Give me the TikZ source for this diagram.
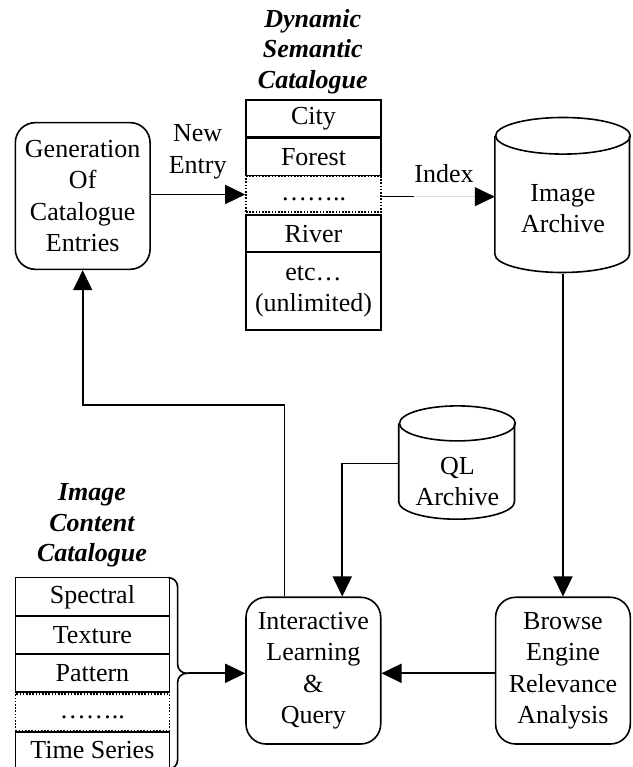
\documentclass[tikz,border=0pt]{standalone}
\usepackage{fontspec}
\setmainfont{Liberation Serif}
\usetikzlibrary{arrows.meta}

\begin{document}
\begin{tikzpicture}[x=1pt,y=1pt,
  every node/.style={font=\fontsize{26}{31.3}\selectfont, inner sep=0pt, align=center},
  line width=1.6pt,
  procbox/.style={draw, rounded corners=20pt, minimum width=134.7pt, minimum height=146.7pt},
  cell/.style={draw, minimum width=135pt},
  icell/.style={draw, minimum width=154.2pt},
  dotcell/.style={draw, dash pattern=on 1.6pt off 1.6pt},
  heading/.style={font=\fontsize{26}{30.5}\selectfont\bfseries\itshape},
  arr/.style={-{Triangle[length=20pt,width=19pt]}}]

\useasboundingbox (0,0) rectangle (632,767);
\clip (0,0) rectangle (632,767);

% process boxes
\node[procbox] (gen) at (82.7,571) {Generation\\Of\\Catalogue\\Entries};
\node[procbox] (iq)  at (313.35,96.35) {Interactive\\Learning\\\&\\Query};
\node[procbox] (br)  at (562.95,96.35) {Browse\\Engine\\Relevance\\Analysis};

% dynamic semantic catalogue
\node[heading] at (312.8,715.3) {Dynamic\\Semantic\\Catalogue};
\node[cell, minimum height=36.7pt] (c1) at (313.5,648.65) {City};
\node[cell, minimum height=37.7pt] (c2) at (313.5,610.15) {Forest};
\node[cell, dotcell, minimum height=35.6pt] (c3) at (313.5,572.5) {\strut……..};
\node[cell, minimum height=37.3pt] (c4) at (313.5,533.35) {River};
\node[cell, minimum height=77.7pt] (c5) at (313.5,475.85) {etc…\\(unlimited)};

% image content catalogue
\node[heading] at (92,241.4) {Image\\Content\\Catalogue};
\node[icell, minimum height=38.3pt] (s1) at (92.4,170.15) {Spectral};
\node[icell, minimum height=38pt]   (s2) at (92.4,132) {Texture};
\node[icell, minimum height=38.3pt] (s3) at (92.4,93.85) {Pattern};
\node[icell, dotcell, minimum height=36.7pt] (s4) at (92.4,54.65) {\strut……..};
\node[icell, minimum height=36.2pt] (s5) at (92.4,16.6) {Time Series};

% archives: invisible nodes carry the outline, the cylinder is drawn around them
\node[minimum width=134.7pt, minimum height=155pt] (arch) at (562.95,571.2) {};
\node at ([yshift=-13pt]arch.center) {Image\\Archive};
\draw (arch.north west) ++(0,-18.3) -- ++(0,-118.4)
      arc[start angle=180, end angle=360, x radius=67.35pt, y radius=18.3pt]
      -- ++(0,118.4);
\draw ([yshift=-18.3pt]arch.north) ellipse [x radius=67.35pt, y radius=18.3pt];

\node[minimum width=115.8pt, minimum height=113.3pt] (ql) at (457.4,303.65) {};
\node at ([yshift=-18pt]ql.center) {QL\\Archive};
\draw (ql.north west) ++(0,-17.5) -- ++(0,-78.3)
      arc[start angle=180, end angle=360, x radius=57.9pt, y radius=17.5pt]
      -- ++(0,78.3);
\draw ([yshift=-17.5pt]ql.north) ellipse [x radius=57.9pt, y radius=17.5pt];

% brace grouping the image content catalogue
\coordinate (brtip) at (187.6,93.7);
\draw[rounded corners=9pt] (169.5,189.3) -- (177.6,189.3) -- (177.6,93.7) -- (brtip);
\draw[rounded corners=9pt] (169.5,-2) -- (177.6,-2) -- (177.6,93.7) -- (brtip);

% labels
\node at (197.7,615.3) {New\\Entry};
\node at (444,593.7) {Index};

% connectors
\draw[arr] (gen.east |- c3.west) -- (c3.west);
\coordinate (idxmid) at (413.6,570.3);
\draw (c3.east |- idxmid) -- (idxmid);
\draw[gray!25, line width=0.8pt, -{Triangle[length=20pt,width=19pt,color=black]}]
  (idxmid) -- (arch.west |- idxmid);
\draw[arr] (arch.south) -- (br.north);
\draw[arr] (br.west |- brtip) -- (iq.east |- brtip);
\draw[arr] (brtip) -- (iq.west |- brtip);
\draw[arr] (ql.west) -| ([xshift=28.9pt]iq.north);
\coordinate (bend) at (82.7,362);
\draw[arr] ([xshift=-28.8pt]iq.north) |- (bend) -- (gen.south);
\end{tikzpicture}
\end{document}
